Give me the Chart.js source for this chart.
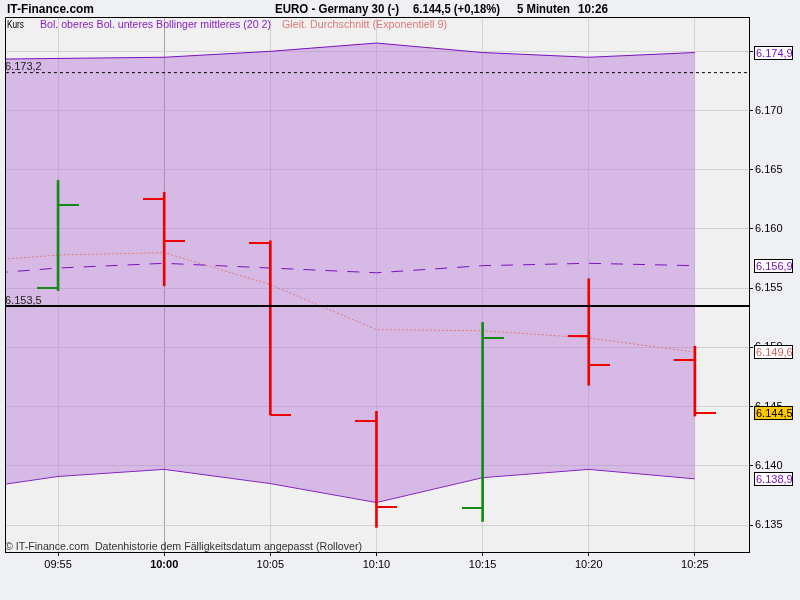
<!DOCTYPE html>
<html>
<head>
<meta charset="utf-8">
<script src="https://cdn.jsdelivr.net/npm/chart.js@4.4.1/dist/chart.umd.min.js"></script>
<style>
  html, body { margin: 0; padding: 0; background: #eff0f3; }
  canvas { display: block; }
</style>
</head>
<body>
<canvas id="chart" width="800" height="600"></canvas>
<script>
// 5-minute bars, index 0 (09:50) is only left of the visible area
const times = ['09:50', '09:55', '10:00', '10:05', '10:10', '10:15', '10:20', '10:25'];

const openVals  = [null, 6155.0, 6162.5, 6158.8, 6143.8, 6136.4, 6151.0, 6148.9];
const highVals  = [null, 6164.1, 6163.1, 6159.0, 6144.6, 6152.1, 6155.8, 6150.1];
const lowVals   = [null, 6154.8, 6155.2, 6144.3, 6134.8, 6135.3, 6146.8, 6144.2];
const closeVals = [null, 6162.0, 6159.0, 6144.3, 6136.5, 6150.8, 6148.5, 6144.5];

const bolUpper  = [6174.3, 6174.4, 6174.5, 6175.0, 6175.7, 6174.9, 6174.5, 6174.9];
const bolLower  = [6137.8, 6139.1, 6139.7, 6138.5, 6136.9, 6139.0, 6139.7, 6138.9];
const bolMiddle = [6156.0, 6156.7, 6157.1, 6156.7, 6156.3, 6156.9, 6157.1, 6156.9];
const ema9      = [6157.1, 6157.8, 6158.0, 6155.3, 6151.5, 6151.4, 6150.8, 6149.6];

const levelSolid = 6153.5;
const levelDotted = 6173.2;

const yTicks = [6135, 6140, 6145, 6150, 6155, 6160, 6165, 6170, 6175];

const PURPLE = '#7a10c0';
const SALMON = '#e07878';
const GREEN = '#138a13';
const RED = '#f00000';
const FONT = 'Arial, "Liberation Sans", sans-serif';

function fmtTick(v) {
  const s = Math.round(v).toString();
  return s.slice(0, -3) + '.' + s.slice(-3);
}
function fmtVal(v) {
  const parts = v.toFixed(1).split('.');
  return parts[0].slice(0, -3) + '.' + parts[0].slice(-3) + ',' + parts[1];
}

function tickImage(color, side) {
  const c = document.createElement('canvas');
  c.width = 42; c.height = 2;
  const g = c.getContext('2d');
  g.fillStyle = color;
  g.fillRect(side === 'left' ? 0 : 21, 0, 21, 2);
  return c;
}
const imgs = {
  openUp: tickImage(GREEN, 'left'), openDown: tickImage(RED, 'left'),
  closeUp: tickImage(GREEN, 'right'), closeDown: tickImage(RED, 'right')
};

const barIdx = times.map((t, i) => i).filter(i => openVals[i] !== null);
const isUp = i => closeVals[i] >= openVals[i];

function series(arr) {
  return arr.map((v, i) => ({ x: i, y: v }));
}

function fitText(ctx, text, x, y, w) {
  const m = ctx.measureText(text).width;
  ctx.save();
  ctx.translate(x, y);
  ctx.scale(w / m, 1);
  ctx.fillText(text, 0, 0);
  ctx.restore();
}

const decor = {
  id: 'decor',
  beforeDraw(chart) {
    const { ctx, chartArea: a } = chart;
    ctx.save();
    ctx.fillStyle = '#eff0f3';
    ctx.fillRect(0, 0, chart.width, chart.height);
    ctx.fillStyle = '#f0f0f0';
    ctx.fillRect(a.left, a.top, a.right - a.left, a.bottom - a.top);
    ctx.restore();
  },
  afterDraw(chart) {
    const { ctx, chartArea: a } = chart;
    const y = chart.scales.y;
    ctx.save();
    // frame left + top
    ctx.strokeStyle = '#000';
    ctx.lineWidth = 1;
    ctx.beginPath();
    ctx.moveTo(a.left + 0.5, a.bottom);
    ctx.lineTo(a.left + 0.5, a.top + 0.5);
    ctx.lineTo(a.right, a.top + 0.5);
    ctx.stroke();

    // header
    ctx.textBaseline = 'alphabetic';
    ctx.textAlign = 'left';
    ctx.fillStyle = '#000';
    ctx.font = 'bold 12px ' + FONT;
    fitText(ctx, 'IT-Finance.com', 7, 13, 87);
    fitText(ctx, 'EURO - Germany 30 (-)', 275, 13, 124);
    fitText(ctx, '6.144,5 (+0,18%)', 413, 13, 87);
    fitText(ctx, '5 Minuten', 517, 13, 53);
    fitText(ctx, '10:26', 578, 13, 30);

    // legend row
    ctx.font = '10px ' + FONT;
    ctx.fillStyle = '#000';
    fitText(ctx, 'Kurs', 7, 28, 17);
    ctx.fillStyle = '#8a20c8';
    fitText(ctx, 'Bol. oberes Bol. unteres Bollinger mittleres (20 2)', 40, 28, 231);
    ctx.fillStyle = SALMON;
    fitText(ctx, 'Gleit. Durchschnitt (Exponentiell 9)', 282, 28, 165);

    // level labels
    ctx.fillStyle = '#222';
    ctx.font = '11px ' + FONT;
    ctx.fillText(fmtVal(levelDotted), 5, y.getPixelForValue(levelDotted) - 3);
    ctx.fillText(fmtVal(levelSolid), 5, y.getPixelForValue(levelSolid) - 2);

    // footer
    ctx.fillStyle = '#333';
    fitText(ctx, '\u00a9 IT-Finance.com  Datenhistorie dem F\u00e4lligkeitsdatum angepasst (Rollover)', 5, 550, 357);

    // value boxes on the right axis
    const last = times.length - 1;
    const boxes = [
      { v: bolUpper[last], fg: PURPLE, bg: '#fff' },
      { v: bolMiddle[last], fg: PURPLE, bg: '#fff' },
      { v: ema9[last], fg: '#d06060', bg: '#fff' },
      { v: closeVals[last], fg: '#000', bg: '#ffc800' },
      { v: bolLower[last], fg: PURPLE, bg: '#fff' }
    ];
    ctx.font = '11px ' + FONT;
    ctx.textBaseline = 'middle';
    boxes.forEach(b => {
      const py = Math.round(y.getPixelForValue(b.v));
      ctx.fillStyle = b.bg;
      ctx.fillRect(754, py - 6, 38, 13);
      ctx.strokeStyle = '#000';
      ctx.strokeRect(754.5, py - 6.5, 38, 13);
      ctx.fillStyle = b.fg;
      ctx.fillText(fmtVal(b.v), 756, py + 0.5);
    });
    ctx.restore();
  }
};

const lineBase = { pointRadius: 0, borderWidth: 1, tension: 0, fill: false };

new Chart(document.getElementById('chart'), {
  type: 'line',
  data: {
    datasets: [
      { ...lineBase, label: 'Bol. oberes', data: series(bolUpper), borderColor: PURPLE,
        fill: '+1', backgroundColor: 'rgba(178,112,214,0.42)', order: 6 },
      { ...lineBase, label: 'Bol. unteres', data: series(bolLower), borderColor: PURPLE, order: 6 },
      { ...lineBase, label: 'Bollinger mittleres', data: series(bolMiddle), borderColor: PURPLE,
        borderDash: [12, 10], order: 5 },
      { ...lineBase, label: 'EMA 9', data: series(ema9), borderColor: SALMON,
        borderDash: [2, 2], order: 5 },
      { type: 'bar', label: 'High-Low',
        data: barIdx.map(i => ({ x: i, y: [lowVals[i], highVals[i]] })),
        backgroundColor: barIdx.map(i => isUp(i) ? GREEN : RED),
        barThickness: 2, borderWidth: 0, order: 3 },
      { ...lineBase, label: 'Open', showLine: false, pointRadius: 3,
        data: barIdx.map(i => ({ x: i, y: openVals[i] })),
        pointStyle: barIdx.map(i => isUp(i) ? imgs.openUp : imgs.openDown), order: 2 },
      { ...lineBase, label: 'Close', showLine: false, pointRadius: 3,
        data: barIdx.map(i => ({ x: i, y: closeVals[i] })),
        pointStyle: barIdx.map(i => isUp(i) ? imgs.closeUp : imgs.closeDown), order: 2 },
      { ...lineBase, label: 'Level', data: [{ x: 0, y: levelSolid }, { x: 8, y: levelSolid }],
        borderColor: '#000', borderWidth: 2, order: 1 },
      { ...lineBase, label: 'Level dotted', data: [{ x: 0, y: levelDotted }, { x: 8, y: levelDotted }],
        borderColor: '#000', borderDash: [3, 3], order: 1 }
    ]
  },
  options: {
    responsive: false,
    animation: false,
    events: [],
    layout: { padding: { left: 4, top: 17, right: 0, bottom: 0 } },
    plugins: { legend: { display: false }, tooltip: { enabled: false } },
    scales: {
      x: {
        type: 'linear',
        min: 0.5,
        max: 7.51,
        offset: false,
        afterFit: s => { s.height = 48; },
        grid: {
          offset: false,
          color: c => (times[c.tick.value] || '').endsWith(':00') ? '#a4a4a4' : '#d2d2d2',
          tickColor: '#000',
          tickLength: 4
        },
        border: { color: '#000', width: 1 },
        ticks: {
          stepSize: 1,
          includeBounds: false,
          autoSkip: false,
          maxRotation: 0,
          padding: 2,
          color: '#000',
          font: c => ({ family: FONT, size: 11,
            weight: (times[c.tick && c.tick.value] || '').endsWith(':00') ? 'bold' : 'normal' }),
          callback: v => times[v] || ''
        }
      },
      y: {
        type: 'linear',
        position: 'right',
        min: 6132.72,
        max: 6177.9,
        beginAtZero: false,
        afterFit: s => { s.width = 51; },
        afterBuildTicks: s => { s.ticks = yTicks.map(v => ({ value: v })); },
        grid: { color: '#d2d2d2', tickColor: '#000', tickLength: 4 },
        border: { color: '#000', width: 1 },
        ticks: {
          padding: 2,
          color: '#000',
          font: { family: FONT, size: 11 },
          callback: v => fmtTick(v)
        }
      }
    }
  },
  plugins: [decor]
});
</script>
</body>
</html>
